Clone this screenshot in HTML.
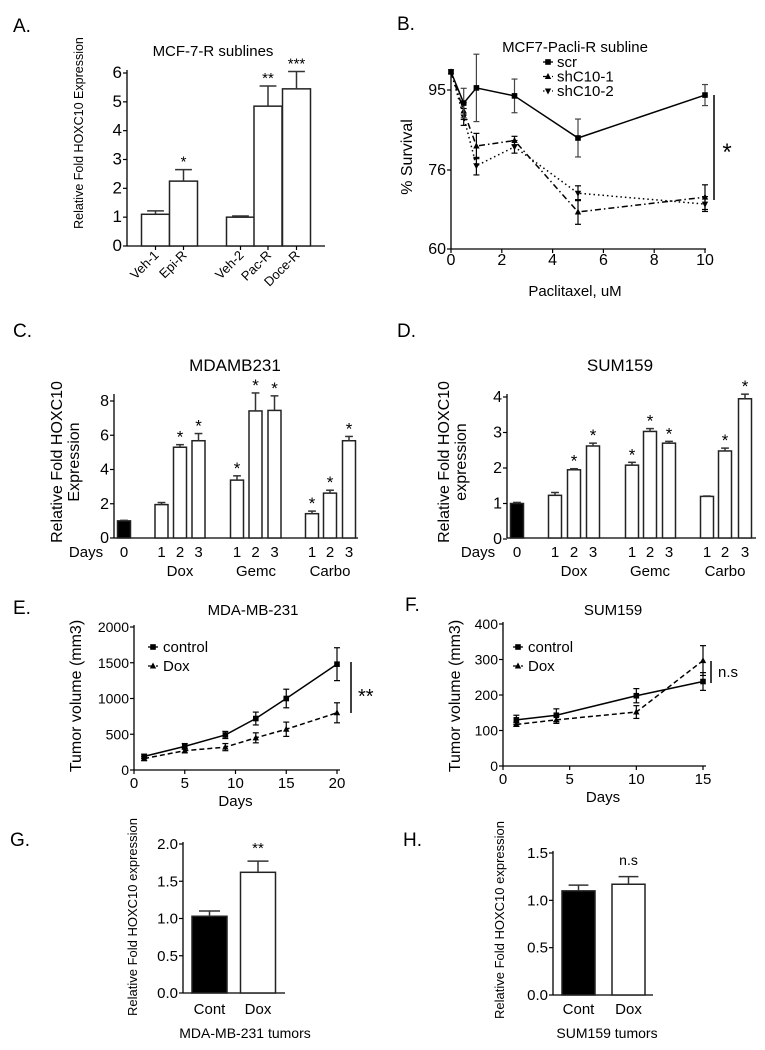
<!DOCTYPE html>
<html><head><meta charset="utf-8">
<style>
html,body{margin:0;padding:0;background:#fff;}
svg{display:block;font-family:"Liberation Sans",Arial,sans-serif;}
</style></head>
<body>
<svg id="fig" width="765" height="1050" viewBox="0 0 765 1050"></svg>
<script>
// ---- Panel A data ----
const aCats = ["Veh-1","Epi-R","Veh-2","Pac-R","Doce-R"];
const aVals = [1.1, 2.25, 1.0, 4.85, 5.45];
const aErrs = [0.12, 0.4, 0.04, 0.7, 0.6];
const aStars = ["", "*", "", "**", "***"];
const aTicks = [0,1,2,3,4,5,6];
// ---- Panel B data ----
const bX = [0, 0.5, 1, 2.5, 5, 10];
const bScr = [99.3, 91.9, 95.5, 93.6, 83.6, 93.8];
const bScrErr = [0, 3.5, 8, 4, 4.5, 2.5];
const bSh1 = [99.3, 90, 81.7, 83, 67.5, 70.5];
const bSh1Err = [0, 2, 3, 1, 2.5, 2.5];
const bSh2 = [99.3, 88.6, 77, 81.5, 71.3, 69.1];
const bSh2Err = [0, 2, 2, 1.5, 1.5, 1.5];
const bYTicks = [60, 76, 95];
const bXTicks = [0,2,4,6,8,10];
// ---- Panel C data ----
const cGroups = ["","Dox","Gemc","Carbo"];
const cDays = ["0","1","2","3","1","2","3","1","2","3"];
const cVals = [1.0, 1.95, 5.3, 5.68, 3.38, 7.42, 7.45, 1.42, 2.62, 5.68];
const cErrs = [0.03, 0.12, 0.15, 0.42, 0.25, 1.05, 0.85, 0.15, 0.17, 0.25];
const cStar = [0,0,1,1,1,1,1,1,1,1];
const cTicks = [0,2,4,6,8];
// ---- Panel D data ----
const dVals = [1.0, 1.23, 1.95, 2.62, 2.08, 3.03, 2.7, 1.2, 2.48, 3.95];
const dErrs = [0.03, 0.08, 0.03, 0.08, 0.08, 0.08, 0.05, 0.01, 0.08, 0.13];
const dStar = [0,0,1,1,1,1,1,0,1,1];
const dTicks = [0,1,2,3,4];
// ---- Panel E data ----
const eDays = [1,5,9,12,15,20];
const eCtrl = [190, 330, 490, 720, 1000, 1480];
const eCtrlErr = [30, 40, 50, 90, 130, 230];
const eDox = [160, 270, 320, 450, 570, 800];
const eDoxErr = [30, 30, 50, 70, 100, 140];
const eYTicks = [0,500,1000,1500,2000];
const eXTicks = [0,5,10,15,20];
// ---- Panel F data ----
const fDays = [1,4,10,15];
const fCtrl = [130, 143, 198, 238];
const fCtrlErr = [13, 18, 20, 25];
const fDox = [117, 130, 152, 297];
const fDoxErr = [5, 10, 18, 42];
const fYTicks = [0,100,200,300,400];
const fXTicks = [0,5,10,15];
// ---- Panel G/H data ----
const gCats = ["Cont","Dox"];
const gVals = [1.03, 1.62];
const gErrs = [0.07, 0.15];
const gTicks = [0,0.5,1.0,1.5,2.0];
const hVals = [1.1, 1.17];
const hErrs = [0.06, 0.08];
const hTicks = [0,0.5,1.0,1.5];

const NS = "http://www.w3.org/2000/svg";
const svg = document.getElementById("fig");
function mk(tag, attrs, parent){
  const e = document.createElementNS(NS, tag);
  for (const k in attrs) e.setAttribute(k, attrs[k]);
  (parent||svg).appendChild(e);
  return e;
}
function lin(d0,d1,r0,r1){ return v => r0 + (v-d0)*(r1-r0)/(d1-d0); }
function txt(x,y,s,size,anchor,g){
  const t = mk("text",{x:x,y:y,"font-size":size,"text-anchor":anchor||"middle",fill:"#000"},g);
  t.textContent = s;
  return t;
}
function group(name){
  const g = mk("g",{});
  
  
  return g;
}
function yAxis(g, x, yS, ticks, y0, y1, fmt, size){
  const ax = mk("line",{x1:x,y1:y0,x2:x,y2:y1,stroke:"#000","stroke-width":1.3},g);
  
  
  ticks.forEach(v=>{
    const y = yS(v);
    mk("line",{x1:x-4,y1:y,x2:x,y2:y,stroke:"#000","stroke-width":1.2},g);
    const t = txt(x-5, y+5, fmt?fmt(v):String(v), size||15, "end", g);
    
    
  });
}
function xAxis(g, y, x0, x1){
  const ax = mk("line",{x1:x0,y1:y,x2:x1,y2:y,stroke:"#000","stroke-width":1.3},g);
  
  
}
function letter(x,y,s){
  const t = txt(x,y,s,19,"start");
  
  
}
function vtext(x,y,s,size,g){
  const t = mk("text",{x:0,y:0,"font-size":size,"text-anchor":"middle",transform:`translate(${x},${y}) rotate(-90)`,fill:"#000"},g);
  t.textContent = s;
  return t;
}
function bar(g,x,w,y0,y,fill,err,yS){
  const r = mk("rect",{x:x-w/2,y:y,width:w,height:y0-y,fill:fill,stroke:"#222","stroke-width":1.5},g);
  
  
  if (err!==null){
    mk("line",{x1:x,y1:y,x2:x,y2:err,stroke:"#333","stroke-width":1.5},g);
    mk("line",{x1:x-w*0.3,y1:err,x2:x+w*0.3,y2:err,stroke:"#333","stroke-width":1.5},g);
  }
}
function marker(g,x,y,type){
  let m;
  if (type==="sq") m = mk("rect",{x:x-2.8,y:y-2.8,width:5.6,height:5.6,fill:"#000"},g);
  else if (type==="up") m = mk("polygon",{points:`${x},${y-3.5} ${x-3.2},${y+2.5} ${x+3.2},${y+2.5}`,fill:"#000"},g);
  else m = mk("polygon",{points:`${x},${y+3.5} ${x-3.2},${y-2.5} ${x+3.2},${y-2.5}`,fill:"#000"},g);
  
  
}
function errV(g,x,yTop,yBot,col){
  mk("line",{x1:x,y1:yTop,x2:x,y2:yBot,stroke:col||"#000","stroke-width":1.2},g);
  mk("line",{x1:x-3,y1:yTop,x2:x+3,y2:yTop,stroke:col||"#000","stroke-width":1.2},g);
  mk("line",{x1:x-3,y1:yBot,x2:x+3,y2:yBot,stroke:col||"#000","stroke-width":1.2},g);
}
function series(g,name,xs,ys,errs,xS,yS,dash,mtype,ecol){
  const pts = xs.map((x,i)=>xS(x)+","+yS(ys[i])).join(" ");
  const p = mk("polyline",{points:pts,fill:"none",stroke:"#000","stroke-width":1.5,"stroke-dasharray":dash},g);
  
  
  xs.forEach((x,i)=>{
    if (errs[i]>0) errV(g,xS(x),yS(ys[i]+errs[i]),yS(ys[i]-errs[i]),ecol);
    marker(g,xS(x),yS(ys[i]),mtype);
  });
}

// ================= Panel A =================
(function(){
  const g = group("panel-a-bar-chart");
  letter(13,32,"A.");
  const yS = lin(0,6,246,73);
  const t = txt(213,56,"MCF-7-R sublines",15,"middle",g);
   
  const yl = vtext(83,133,"Relative Fold HOXC10 Expression",12.5,g);
   
  yAxis(g,127,yS,aTicks,70,246,null,17);
  xAxis(g,246,127,325);
  const xs = [155.5,183.5,240.5,268,296.5];
  aCats.forEach((c,i)=>{
    const x = xs[i];
    bar(g,x,28,246,yS(aVals[i]),"#fff",yS(aVals[i]+aErrs[i]),yS);
    mk("line",{x1:x,y1:246,x2:x,y2:250,stroke:"#000","stroke-width":1.2},g);
    const l = mk("text",{x:0,y:0,"font-size":13,"text-anchor":"end",transform:`translate(${x+4},${256}) rotate(-45)`},g);
    l.textContent = c;
     
    if (aStars[i]){
      const s = txt(x,yS(aVals[i]+aErrs[i])-3,aStars[i],15,"middle",g);
       
    }
  });
})();

// ================= Panel B =================
(function(){
  const g = group("panel-b-line-chart");
  letter(397,30,"B.");
  const yS = v => v>=76 ? 170-(v-76)*(80/19) : 249-(v-60)*(79/16);
  const xS = lin(0,10,451,705);
  const t = txt(575,52,"MCF7-Pacli-R subline",15,"middle",g);
   
  const yl = vtext(412,157,"% Survival",16,g);
   
  yAxis(g,451,yS,bYTicks,70,249,null,16);
  xAxis(g,249,451,706);
  bXTicks.forEach(v=>{
    mk("line",{x1:xS(v),y1:249,x2:xS(v),y2:253,stroke:"#000","stroke-width":1.2},g);
    const l = txt(xS(v),265,String(v),16,"middle",g);
     
  });
  const xl = txt(575,296,"Paclitaxel, uM",15,"middle",g);
   
  series(g,"series-shc10-2",bX,bSh2,bSh2Err,xS,yS,"1.5,3","down","#000");
  series(g,"series-shc10-1",bX,bSh1,bSh1Err,xS,yS,"6,3,1.5,3","up","#000");
  series(g,"series-scr",bX,bScr,bScrErr,xS,yS,"none","sq","#444");
  const leg = [["scr","none","sq"],["shC10-1","6,3,1.5,3","up"],["shC10-2","1.5,3","down"]];
  leg.forEach((l,i)=>{
    const y = 62+i*14.5;
    const lg = group("legend-entry");
    mk("line",{x1:543,y1:y,x2:553,y2:y,stroke:"#000","stroke-width":1.3,"stroke-dasharray":l[1]},lg);
    marker(lg,548,y,l[2]);
    txt(557,y+5,l[0],15,"start",lg);
  });
  const sl = mk("line",{x1:714,y1:95,x2:714,y2:200,stroke:"#000","stroke-width":1.5},g);
   
  const st = txt(727,160,"*",24,"middle",g);
   
})();

// ================= Panels C & D =================
function groupedBars(name, axisX, xCenters, axisEnd, yS, vals, errs, stars, ticks, title, titleX, ylX, ylLines, daysX, groupXs){
  const g = group(name);
  const t = txt(titleX,371,title,17,"middle",g);
   
  ylLines.forEach((s,i)=>{
    const yl = vtext(ylX+i*17,462,s,16,g);
     
  });
  yAxis(g,axisX,yS,ticks,394,538,null,16);
  xAxis(g,538,axisX,axisEnd);
  const dl = txt(daysX,557,"Days",15,"middle",g);
   
  vals.forEach((v,i)=>{
    const x = xCenters[i];
    bar(g,x,13,538,yS(v),i===0?"#000":"#fff",yS(v+errs[i]),yS);
    const l = txt(x,557,cDays[i],15,"middle",g);
     
    if (stars[i]){
      const s = txt(x,yS(v+errs[i])-2,"*",17,"middle",g);
       
    }
  });
  groupXs.forEach((x,i)=>{
    const l = txt(x,576,cGroups[i+1],15,"middle",g);
     
  });
}
letter(13,337,"C.");
groupedBars("panel-c-bar-chart",114,[124,161.5,180,198.5,237,255.5,274.5,312,330,349],358,lin(0,8,538,401),cVals,cErrs,cStar,cTicks,"MDAMB231",235,62,["Relative Fold HOXC10","Expression"],86,[180,256,330]);
letter(397,337,"D.");
groupedBars("panel-d-bar-chart",507,[517,555,574,593,632,650,669,707,725,745],756,lin(0,4,539,397),dVals,dErrs,dStar,dTicks,"SUM159",620,449,["Relative Fold HOXC10","expression"],478,[574,650,725]);

// ================= Panels E & F =================
function growth(name,axisX,x0v,x1v,xEnd,y0,y1,ymax,yTicks,xTicks,days,ctrl,ctrlE,dox,doxE,title,titleX,ylX,legX,sig){
  const g = group(name);
  const xS = lin(x0v,x1v,axisX,xEnd);
  const yS = lin(0,ymax,y0,y1);
  const t = txt(titleX,615,title,15,"middle",g);
   
  const yl = vtext(ylX,696,"Tumor volume (mm3)",16,g);
   
  yAxis(g,axisX,yS,yTicks,y1-2,y0,null,14);
  xAxis(g,y0,axisX,xEnd+3);
  xTicks.forEach(v=>{
    mk("line",{x1:xS(v),y1:y0,x2:xS(v),y2:y0+4,stroke:"#000","stroke-width":1.2},g);
    const l = txt(xS(v),y0+18,String(v),15,"middle",g);
     
  });
  const xl = txt((axisX+xEnd)/2,y0+36,"Days",15,"middle",g);
   
  series(g,"series-dox",days,dox,doxE,xS,yS,"5,3","up","#000");
  series(g,"series-control",days,ctrl,ctrlE,xS,yS,"none","sq","#000");
  [["control","none","sq"],["Dox","5,3","up"]].forEach((l,i)=>{
    const y = 647+i*19;
    const lg = group("legend-entry");
    mk("line",{x1:legX,y1:y,x2:legX+10,y2:y,stroke:"#000","stroke-width":1.3,"stroke-dasharray":l[1]},lg);
    marker(lg,legX+5,y,l[2]);
    txt(legX+15,y+5,l[0],15,"start",lg);
  });
  const sl = mk("line",{x1:sig[0],y1:sig[1],x2:sig[0],y2:sig[2],stroke:"#000","stroke-width":1.5},g);
   
  const st = txt(sig[0]+7,sig[4],sig[3],sig[5],"start",g);
   
}
letter(13,614,"E.");
growth("panel-e-line-chart",134,0,20,337,770,627,2000,eYTicks,eXTicks,eDays,eCtrl,eCtrlErr,eDox,eDoxErr,"MDA-MB-231",253,81,148,[351,662,713,"**",703,20]);
letter(405,611,"F.");
growth("panel-f-line-chart",503,0,15,703,766,624,400,fYTicks,fXTicks,fDays,fCtrl,fCtrlErr,fDox,fDoxErr,"SUM159",613,460,513,[711,661,683,"n.s",677,15]);

// ================= Panels G & H =================
function tumorBars(name,axisX,axisEnd,y0,yS,ticks,vals,errs,xs,w,lab,labText,labX,ylX,ylY){
  const g = group(name);
  yAxis(g,axisX,yS,ticks,yS(ticks[ticks.length-1])-2,y0,v=>v.toFixed(1),15);
  xAxis(g,y0,axisX,axisEnd);
  const yl = vtext(ylX,ylY,"Relative Fold HOXC10 expression",13,g);
   
  vals.forEach((v,i)=>{
    bar(g,xs[i],w,y0,yS(v),i===0?"#000":"#fff",yS(v+errs[i]),yS);
    const l = txt(xs[i],1014,gCats[i],15,"middle",g);
     
  });
  const s = txt(xs[1],lab[1],lab[0],lab[2],"middle",g);
   
  const xt = txt(labX,1038,labText,14,"middle",g);
   
}
letter(10,846,"G.");
tumorBars("panel-g-bar-chart",183,285,993,lin(0,2,993,844),gTicks,gVals,gErrs,[209.5,258],35,["**",853,15],"MDA-MB-231 tumors",245,137,917);
letter(403,846,"H.");
tumorBars("panel-h-bar-chart",553,653,995,lin(0,1.5,995,853),hTicks,hVals,hErrs,[578.5,628.5],33,["n.s",865,14],"SUM159 tumors",607,504,920);
</script>
</body></html>
